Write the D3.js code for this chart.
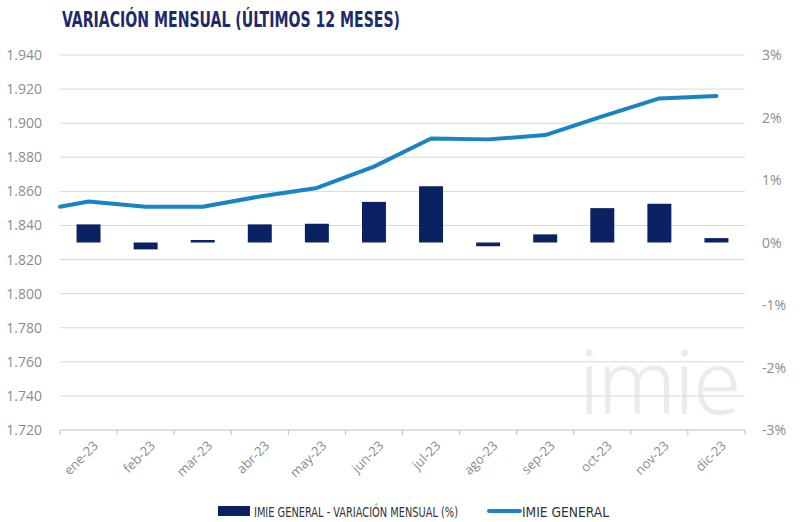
<!DOCTYPE html>
<html>
<head>
<meta charset="utf-8">
<script src="https://cdn.jsdelivr.net/npm/d3@7"></script>
<style>
  html, body { margin: 0; padding: 0; background: #ffffff; }
  svg { display: block; }
</style>
</head>
<body>
<svg id="chart" width="800" height="522"></svg>
<script>
// ---- data ----
const months = ["ene-23","feb-23","mar-23","abr-23","may-23","jun-23","jul-23","ago-23","sep-23","oct-23","nov-23","dic-23"];
const variacionMensual = [0.29, -0.11, 0.04, 0.29, 0.30, 0.65, 0.90, -0.06, 0.13, 0.55, 0.62, 0.07]; // %
const imieGeneral = [1854, 1851, 1851, 1857, 1862, 1874.5, 1891, 1890.5, 1893, 1904, 1914.5, 1916];
const imiePrevious = 1851; // line lead-in value at the left edge of the plot
const leftTicks = [1720,1740,1760,1780,1800,1820,1840,1860,1880,1900,1920,1940];
const rightTicks = [-3,-2,-1,0,1,2,3];
const titleText = "VARIACIÓN MENSUAL (ÚLTIMOS 12 MESES)";
const legendLabels = ["IMIE GENERAL - VARIACIÓN MENSUAL (%)", "IMIE GENERAL"];

// ---- layout ----
const svg = d3.select("#chart");
const M = { left: 60, right: 745, top: 55, bottom: 430 };
const barColor = "#0b2262";
const lineColor = "#1a83c3";
const gridColor = "#d9d9d9";
const labelColor = "#8c8c8c";
const condensed = "'Liberation Sans Narrow','DejaVu Sans Condensed','Roboto Condensed','Arial Narrow',sans-serif";

const es = d3.formatLocale({ decimal: ",", thousands: ".", grouping: [3], currency: ["", "€"] });
const fmtLeft = es.format(",d");

const x = d3.scaleBand().domain(months).range([M.left, M.right]).padding(0);
const yL = d3.scaleLinear().domain([1720, 1940]).range([M.bottom, M.top]);
const yR = d3.scaleLinear().domain([-3, 3]).range([M.bottom, M.top]);
const bw = x.bandwidth();
const barW = bw * 0.42;

// watermark
svg.append("text")
  .attr("x", 579).attr("y", 414)
  .attr("font-family", "'Noto Sans', 'Open Sans', sans-serif")
  .attr("font-weight", 300)
  .attr("font-size", 88)
  .attr("letter-spacing", -2)
  .attr("fill", "#ebebeb")
  .text("imie");

// title
svg.append("text")
  .attr("x", 62).attr("y", 27)
  .attr("font-family", condensed)
  .attr("font-size", 21)
  .attr("font-weight", 700)
  .attr("fill", "#1d2a6b")
  .attr("textLength", 338)
  .attr("lengthAdjust", "spacingAndGlyphs")
  .text(titleText);

// gridlines
svg.append("g").selectAll("line")
  .data(leftTicks.filter(t => t !== 1720))
  .join("line")
  .attr("x1", M.left).attr("x2", M.right)
  .attr("y1", d => yL(d)).attr("y2", d => yL(d))
  .attr("stroke", gridColor).attr("stroke-width", 1);

// left axis labels
svg.append("g").selectAll("text")
  .data(leftTicks)
  .join("text")
  .attr("x", 42).attr("y", d => yL(d) + 5)
  .attr("text-anchor", "end")
  .attr("font-family", "'Open Sans', sans-serif")
  .attr("font-size", 14)
  .attr("fill", labelColor)
  .text(d => fmtLeft(d));

// right axis labels
svg.append("g").selectAll("text")
  .data(rightTicks)
  .join("text")
  .attr("x", 762).attr("y", d => yR(d) + 5)
  .attr("text-anchor", "start")
  .attr("font-family", "'Open Sans', sans-serif")
  .attr("font-size", 14)
  .attr("fill", labelColor)
  .text(d => d + "%");

// bottom axis
const xAxis = svg.append("g").attr("transform", `translate(0,${M.bottom})`);
xAxis.append("line")
  .attr("x1", M.left).attr("x2", M.right)
  .attr("stroke", "#bfbfbf").attr("stroke-width", 1);
const boundaries = months.map(m => x(m)).concat([x.range()[1]]);
xAxis.selectAll("line.tick")
  .data(boundaries)
  .join("line").attr("class", "tick")
  .attr("x1", d => d).attr("x2", d => d)
  .attr("y1", 0).attr("y2", 5)
  .attr("stroke", "#bfbfbf");
xAxis.selectAll("text")
  .data(months)
  .join("text")
  .attr("transform", d => `translate(${x(d) + bw / 2 + 4},${10}) rotate(-45)`)
  .attr("text-anchor", "end")
  .attr("dy", "0.7em")
  .attr("font-family", "'Open Sans', sans-serif")
  .attr("font-size", 13)
  .attr("fill", labelColor)
  .text(d => d);

// bars
svg.append("g").selectAll("rect")
  .data(months.map((m, i) => ({ m, v: variacionMensual[i] })))
  .join("rect")
  .attr("x", d => x(d.m) + (bw - barW) / 2)
  .attr("width", barW)
  .attr("y", d => yR(Math.max(0, d.v)))
  .attr("height", d => Math.abs(yR(d.v) - yR(0)))
  .attr("fill", barColor);

// line
const linePts = [{ px: x.range()[0], v: imiePrevious }]
  .concat(months.map((m, i) => ({ px: x(m) + bw / 2, v: imieGeneral[i] })));
svg.append("path")
  .datum(linePts)
  .attr("d", d3.line().x(d => d.px).y(d => yL(d.v)))
  .attr("fill", "none")
  .attr("stroke", lineColor)
  .attr("stroke-width", 4)
  .attr("stroke-linejoin", "round")
  .attr("stroke-linecap", "round");

// legend
const lg = svg.append("g");
lg.append("rect").attr("x", 218).attr("y", 506).attr("width", 32).attr("height", 10).attr("fill", barColor);
lg.append("text").attr("x", 254).attr("y", 517)
  .attr("font-family", condensed).attr("font-size", 14).attr("fill", "#333333")
  .attr("textLength", 204).attr("lengthAdjust", "spacingAndGlyphs")
  .text(legendLabels[0]);
lg.append("line").attr("x1", 489).attr("x2", 520).attr("y1", 511).attr("y2", 511)
  .attr("stroke", lineColor).attr("stroke-width", 4).attr("stroke-linecap", "round");
lg.append("text").attr("x", 522).attr("y", 517)
  .attr("font-family", condensed).attr("font-size", 14).attr("fill", "#333333")
  .attr("textLength", 87).attr("lengthAdjust", "spacingAndGlyphs")
  .text(legendLabels[1]);
</script>
</body>
</html>
